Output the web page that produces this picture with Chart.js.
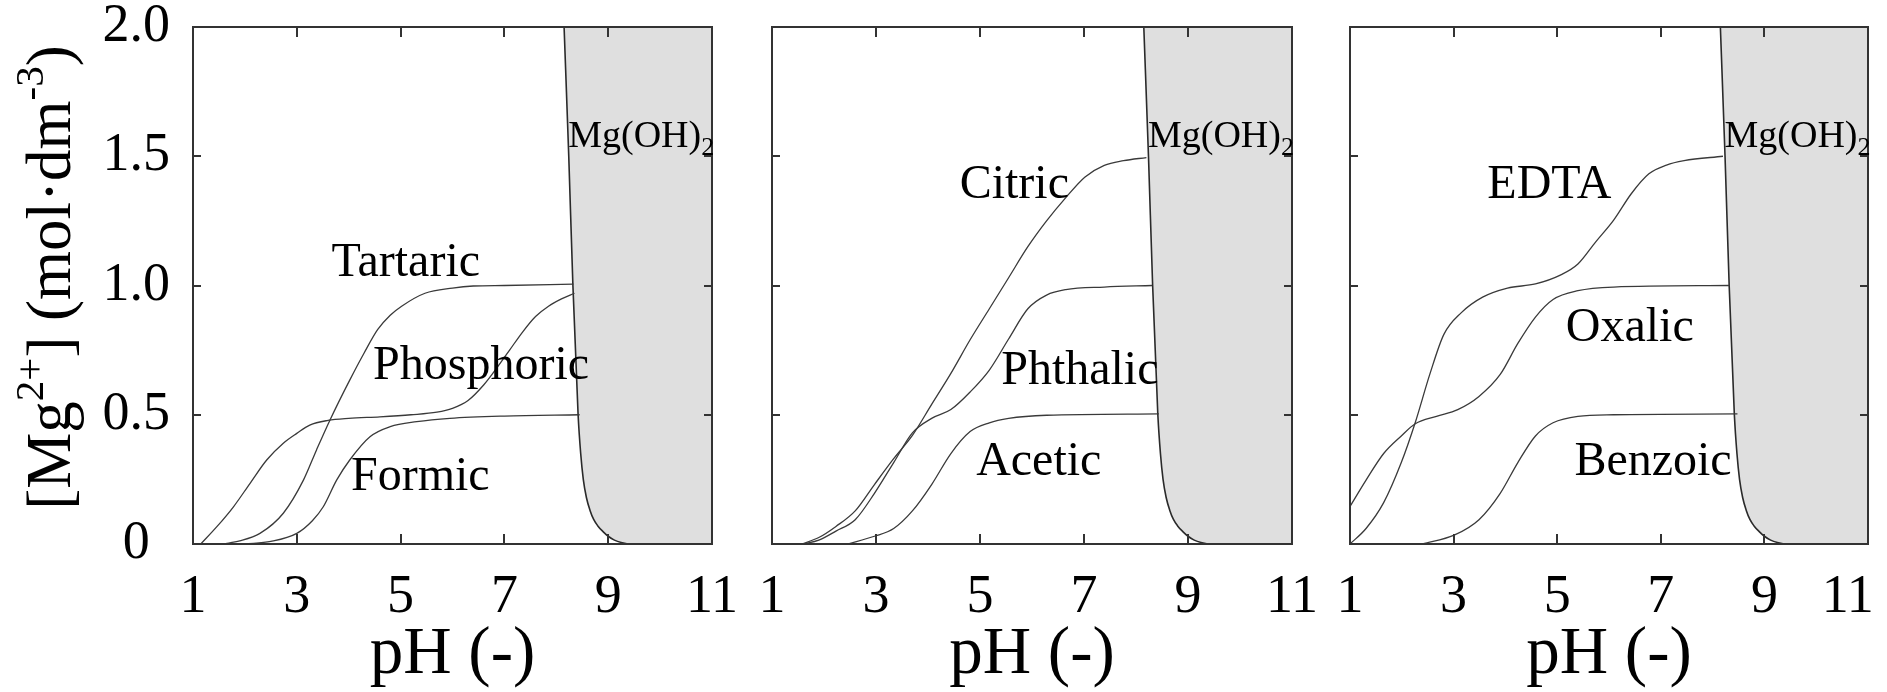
<!DOCTYPE html>
<html>
<head>
<meta charset="utf-8">
<script src="https://cdn.jsdelivr.net/npm/chart.js@4.4.1/dist/chart.umd.min.js"></script>
<style>
  html, body { margin: 0; padding: 0; background: #fff; overflow: hidden; }
  #wrap { position: relative; width: 1887px; height: 692px; }
  #wrap canvas { position: absolute; left: 0; top: 0; }
</style>
</head>
<body>
<div id="wrap">
  <canvas id="c1" width="1887" height="692"></canvas>
  <canvas id="c2" width="1887" height="692"></canvas>
  <canvas id="c3" width="1887" height="692"></canvas>
</div>
<script>
const xTicks = [1, 3, 5, 7, 9, 11];
const xTickLabels = ['1', '3', '5', '7', '9', '11'];
const yTicks = [0, 0.5, 1.0, 1.5, 2.0];
const yTickLabels = ['0', '0.5', '1.0', '1.5', '2.0'];

// [pH, Mg2+] pairs
const phosphoric = [[1.15, 0], [1.46, 0.067], [1.78, 0.144], [2.1, 0.235], [2.42, 0.325], [2.74, 0.39], [3.0, 0.428], [3.25, 0.46], [3.6, 0.478], [4.0, 0.486], [4.6, 0.492], [5.2, 0.5], [5.7, 0.51], [6.0, 0.525], [6.3, 0.555], [6.6, 0.615], [6.85, 0.68], [7.1, 0.75], [7.35, 0.82], [7.6, 0.88], [7.85, 0.92], [8.1, 0.948], [8.35, 0.97]];
const tartaric = [[1.58, 0], [1.9, 0.012], [2.29, 0.041], [2.74, 0.119], [3.13, 0.248], [3.38, 0.364], [3.64, 0.48], [4.02, 0.634], [4.3, 0.74], [4.56, 0.83], [4.8, 0.885], [5.02, 0.92], [5.47, 0.97], [6.0, 0.99], [6.4, 0.998], [7.0, 1.0], [8.33, 1.005]];
const formic = [[2.0, 0], [2.5, 0.01], [3.0, 0.041], [3.3, 0.09], [3.51, 0.144], [3.77, 0.248], [4.02, 0.325], [4.41, 0.415], [4.8, 0.454], [5.31, 0.473], [5.95, 0.486], [7.0, 0.495], [8.45, 0.5]];

const citric = [[1.57, 0], [1.9, 0.025], [2.23, 0.068], [2.6, 0.128], [2.97, 0.23], [3.34, 0.33], [3.7, 0.42], [4.07, 0.54], [4.44, 0.66], [4.81, 0.79], [5.18, 0.91], [5.55, 1.03], [5.92, 1.15], [6.28, 1.25], [6.65, 1.34], [7.02, 1.42], [7.39, 1.465], [7.76, 1.483], [8.2, 1.495]];
const phthalic = [[1.6, 0], [1.9, 0.015], [2.23, 0.05], [2.6, 0.094], [2.97, 0.196], [3.34, 0.315], [3.7, 0.43], [4.07, 0.486], [4.44, 0.52], [4.81, 0.588], [5.18, 0.673], [5.55, 0.793], [5.92, 0.91], [6.28, 0.963], [6.65, 0.984], [7.39, 0.994], [8.31, 1.0]];
const acetic = [[2.45, 0], [2.97, 0.03], [3.34, 0.06], [3.7, 0.128], [4.07, 0.23], [4.44, 0.35], [4.81, 0.435], [5.18, 0.469], [5.55, 0.486], [6.28, 0.498], [8.44, 0.503]];

const edta = [[1.0, 0], [1.31, 0.06], [1.65, 0.16], [1.99, 0.315], [2.26, 0.47], [2.54, 0.656], [2.81, 0.81], [3.15, 0.895], [3.56, 0.955], [4.04, 0.99], [4.58, 1.006], [5.06, 1.04], [5.4, 1.083], [5.74, 1.168], [6.09, 1.253], [6.43, 1.355], [6.77, 1.432], [7.11, 1.466], [7.45, 1.483], [8.2, 1.5]];
const oxalic = [[1.0, 0.145], [1.31, 0.247], [1.65, 0.35], [1.99, 0.418], [2.26, 0.465], [2.67, 0.494], [3.08, 0.52], [3.49, 0.571], [3.9, 0.656], [4.24, 0.776], [4.58, 0.878], [4.92, 0.946], [5.4, 0.98], [6.09, 0.994], [8.33, 1.0]];
const benzoic = [[2.4, 0], [3.01, 0.034], [3.49, 0.094], [3.9, 0.196], [4.24, 0.315], [4.58, 0.418], [4.92, 0.469], [5.4, 0.494], [6.09, 0.5], [8.48, 0.503]];

// Mg(OH)2 precipitation boundary
const mgohBoundary = [[8.15, 2.0], [8.24, 1.5], [8.32, 1.0], [8.42, 0.5], [8.47, 0.35], [8.52, 0.25], [8.58, 0.18], [8.65, 0.13], [8.72, 0.095], [8.8, 0.07], [8.9, 0.048], [9.0, 0.03], [9.12, 0.015], [9.25, 0.006], [9.45, 0.0], [11, 0]];

const panel1Names = ['Tartaric', 'Phosphoric', 'Formic'];
const panel2Names = ['Citric', 'Phthalic', 'Acetic'];
const panel3Names = ['EDTA', 'Oxalic', 'Benzoic'];

const FONT = "'Liberation Serif', 'Times New Roman', serif";

// where each name sits, in pH / concentration units
const panel1Spots = [[5.1, 1.035], [6.55, 0.64], [5.38, 0.21]];
const panel2Spots = [[5.66, 1.34], [6.92, 0.62], [6.13, 0.267]];
const panel3Spots = [[4.85, 1.34], [6.4, 0.785], [6.85, 0.267]];
const mgohSpot = [8.23, 1.535];

const framePlugin = {
  id: 'frame',
  afterDatasetsDraw(chart) {
    const { ctx, chartArea: a, scales: { x, y } } = chart;
    ctx.save();
    ctx.strokeStyle = '#333';
    ctx.lineWidth = 2;
    ctx.beginPath();
    xTicks.slice(1, -1).forEach(v => {
      const px = Math.round(x.getPixelForValue(v));
      ctx.moveTo(px, a.bottom); ctx.lineTo(px, a.bottom - 10);
      ctx.moveTo(px, a.top); ctx.lineTo(px, a.top + 10);
    });
    yTicks.slice(1, -1).forEach(v => {
      const py = Math.round(y.getPixelForValue(v));
      ctx.moveTo(a.left, py); ctx.lineTo(a.left + 8, py);
      ctx.moveTo(a.right, py); ctx.lineTo(a.right - 8, py);
    });
    ctx.stroke();
    ctx.strokeRect(a.left, a.top, a.right - a.left, a.bottom - a.top);
    ctx.restore();
  }
};

const notesFor = (names, spots) => ({
  id: 'notes',
  afterDatasetsDraw(chart) {
    const { ctx, scales: { x, y } } = chart;
    ctx.save();
    ctx.fillStyle = '#000';
    ctx.textBaseline = 'alphabetic';
    ctx.textAlign = 'center';
    ctx.font = `48px ${FONT}`;
    names.forEach((n, i) => {
      ctx.fillText(n, x.getPixelForValue(spots[i][0]), y.getPixelForValue(spots[i][1]));
    });
    // Mg(OH)2 with subscript
    ctx.textAlign = 'left';
    const mx = x.getPixelForValue(mgohSpot[0]);
    const my = y.getPixelForValue(mgohSpot[1]);
    ctx.font = `38px ${FONT}`;
    ctx.fillText('Mg(OH)', mx, my);
    const w = ctx.measureText('Mg(OH)').width;
    ctx.font = `26px ${FONT}`;
    ctx.fillText('2', mx + w, my + 8);
    ctx.restore();
  }
});

const yTitleParts = [['[Mg', false], ['2+', true], ['] (mol·dm', false], ['-3', true], [')', false]];

const yTitlePlugin = {
  id: 'ytitle',
  afterDraw(chart) {
    const { ctx, chartArea: a } = chart;
    const big = `63px ${FONT}`;
    const small = `41px ${FONT}`;
    ctx.save();
    let total = 0;
    yTitleParts.forEach(([t, sup]) => { ctx.font = sup ? small : big; total += ctx.measureText(t).width; });
    ctx.translate(a.left - 123, (a.top + a.bottom) / 2 - 8);
    ctx.rotate(-Math.PI / 2);
    ctx.fillStyle = '#000';
    ctx.textAlign = 'left';
    ctx.textBaseline = 'alphabetic';
    let cx = -total / 2;
    yTitleParts.forEach(([t, sup]) => {
      ctx.font = sup ? small : big;
      ctx.fillText(t, cx, sup ? -27 : 0);
      cx += ctx.measureText(t).width;
    });
    ctx.restore();
  }
};

const curveStyle = {
  borderColor: '#3a3a3a',
  borderWidth: 1.3,
  pointRadius: 0,
  fill: false,
  cubicInterpolationMode: 'monotone'
};

// lastPad: the right-hand panel's last label sits tucked inside the frame
const makePanel = (id, curves, names, spots, showY, padLeft, padRight, lastPad) => {
  const datasets = curves.map(d => ({ data: d, ...curveStyle }));
  datasets.push({
    data: mgohBoundary,
    borderColor: '#2a2a2a',
    borderWidth: 1.6,
    pointRadius: 0,
    fill: 'end',
    backgroundColor: '#dfdfdf',
    cubicInterpolationMode: 'monotone'
  });
  const plugins = [framePlugin, notesFor(names, spots)];
  if (showY) plugins.push(yTitlePlugin);
  return new Chart(document.getElementById(id), {
    type: 'line',
    data: { datasets },
    options: {
      responsive: false,
      animation: false,
      layout: { padding: { top: 27, bottom: 0, left: padLeft, right: padRight } },
      plugins: { legend: { display: false }, tooltip: { enabled: false } },
      scales: {
        x: {
          type: 'linear',
          min: 1,
          max: 11,
          afterBuildTicks: axis => { axis.ticks = xTicks.map(v => ({ value: v })); },
          grid: { display: false, drawTicks: false },
          border: { display: false },
          ticks: {
            font: { family: FONT, size: 54 },
            color: '#000',
            padding: 21,
            maxRotation: 0,
            autoSkip: false,
            callback: (v, i) => xTickLabels[i] + (i === xTickLabels.length - 1 ? lastPad : '')
          },
          title: {
            display: true,
            text: 'pH (-)',
            color: '#000',
            font: { family: FONT, size: 67, lineHeight: 1 },
            padding: { top: 0, bottom: 3 }
          },
          afterFit: axis => { axis.height = 148; axis.paddingLeft = 0; axis.paddingRight = 0; }
        },
        y: {
          display: showY,
          min: 0,
          max: 2,
          afterBuildTicks: axis => { axis.ticks = yTicks.map(v => ({ value: v })); },
          grid: { display: false, drawTicks: false },
          border: { display: false },
          ticks: {
            font: { family: FONT, size: 54 },
            color: '#000',
            padding: 23,
            crossAlign: 'center',
            callback: (v, i) => yTickLabels[i]
          },
          afterFit: axis => { axis.width = 193 - padLeft; axis.paddingTop = 0; axis.paddingBottom = 0; }
        }
      }
    },
    plugins
  });
};

makePanel('c1', [tartaric, phosphoric, formic], panel1Names, panel1Spots, true, 0, 1887 - 712, '');
makePanel('c2', [citric, phthalic, acetic], panel2Names, panel2Spots, false, 772, 1887 - 1292, '');
makePanel('c3', [edta, oxalic, benzoic], panel3Names, panel3Spots, false, 1350, 1887 - 1868, '   ');
</script>
</body>
</html>
